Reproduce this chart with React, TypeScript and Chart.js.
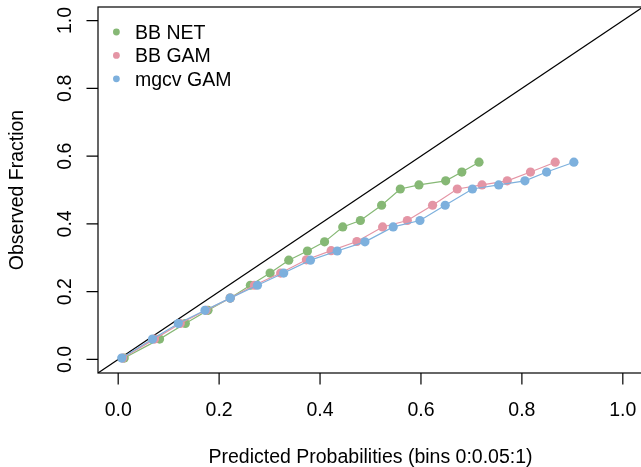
import React, { useEffect, useRef } from "react";
import { Chart, registerables } from "chart.js";

Chart.register(...registerables);

// ---- data ----
const seriesNames = ["BB NET", "BB GAM", "mgcv GAM"];
const seriesColors = ["#86B875", "#E495A5", "#7DB0DD"];

const bbNetPredicted = [0.012, 0.082, 0.133, 0.178, 0.222, 0.262, 0.301, 0.338, 0.375, 0.409, 0.445, 0.480, 0.522, 0.559, 0.596, 0.649, 0.681, 0.715];
const bbNetObserved = [0.004, 0.060, 0.106, 0.145, 0.181, 0.219, 0.255, 0.293, 0.320, 0.347, 0.391, 0.410, 0.455, 0.503, 0.515, 0.527, 0.553, 0.582];

const bbGamPredicted = [0.009, 0.072, 0.123, 0.174, 0.222, 0.270, 0.322, 0.373, 0.422, 0.473, 0.524, 0.573, 0.623, 0.672, 0.721, 0.771, 0.817, 0.866];
const bbGamObserved = [0.004, 0.060, 0.106, 0.145, 0.181, 0.219, 0.255, 0.294, 0.321, 0.348, 0.391, 0.410, 0.455, 0.503, 0.515, 0.527, 0.553, 0.582];

const mgcvGamPredicted = [0.007, 0.068, 0.119, 0.172, 0.222, 0.276, 0.328, 0.381, 0.434, 0.489, 0.545, 0.598, 0.648, 0.702, 0.754, 0.806, 0.849, 0.903];
const mgcvGamObserved = [0.004, 0.060, 0.106, 0.145, 0.181, 0.219, 0.255, 0.293, 0.320, 0.347, 0.391, 0.410, 0.455, 0.503, 0.515, 0.527, 0.553, 0.582];

const tickValues = [0, 0.2, 0.4, 0.6, 0.8, 1.0];
const tickLabels = ["0.0", "0.2", "0.4", "0.6", "0.8", "1.0"];
const axisMin = -0.04;
const axisMax = 1.04;
const diagonalEnds = [-0.04, 1.04];
const xTitle = "Predicted Probabilities (bins 0:0.05:1)";
const yTitle = "Observed Fraction";

const FONT = '19.5px "Liberation Sans", Arial, Helvetica, sans-serif';

const toPoints = (xs: number[], ys: number[]) => xs.map((v, i) => ({ x: v, y: ys[i] }));

const rPlotPlugin = {
  id: "rPlot",
  afterDraw(chart: any) {
    const { ctx, chartArea: a } = chart;
    const xs = chart.scales.x;
    const ys = chart.scales.y;
    ctx.save();
    ctx.strokeStyle = "#000";
    ctx.lineWidth = 1.2;
    ctx.strokeRect(a.left, a.top, a.right - a.left, a.bottom - a.top);
    ctx.beginPath();
    tickValues.forEach((v) => {
      const px = xs.getPixelForValue(v);
      ctx.moveTo(px, a.bottom);
      ctx.lineTo(px, a.bottom + 11.5);
    });
    tickValues.forEach((v) => {
      const py = ys.getPixelForValue(v);
      ctx.moveTo(a.left, py);
      ctx.lineTo(a.left - 11.5, py);
    });
    ctx.stroke();

    ctx.fillStyle = "#000";
    ctx.font = FONT;
    ctx.textAlign = "center";
    ctx.textBaseline = "alphabetic";
    tickLabels.forEach((t, i) => {
      ctx.fillText(t, xs.getPixelForValue(tickValues[i]), a.bottom + 43);
    });
    tickLabels.forEach((t, i) => {
      ctx.save();
      ctx.translate(a.left - 27.5, ys.getPixelForValue(tickValues[i]));
      ctx.rotate(-Math.PI / 2);
      ctx.fillText(t, 0, 0);
      ctx.restore();
    });
    ctx.fillText(xTitle, (a.left + a.right) / 2, a.bottom + 90);
    ctx.save();
    ctx.translate(a.left - 75, (a.top + a.bottom) / 2);
    ctx.rotate(-Math.PI / 2);
    ctx.fillText(yTitle, 0, 0);
    ctx.restore();

    // legend
    ctx.textAlign = "left";
    seriesNames.forEach((name, i) => {
      const cy = a.top + 25 + i * 23.4;
      ctx.fillStyle = seriesColors[i];
      ctx.beginPath();
      ctx.arc(a.left + 18.4, cy, 3.4, 0, Math.PI * 2);
      ctx.fill();
      ctx.fillStyle = "#000";
      ctx.fillText(name, a.left + 37, cy + 7);
    });
    ctx.restore();
  },
};

export default function App() {
  const ref = useRef<HTMLCanvasElement | null>(null);

  useEffect(() => {
    const canvas = ref.current;
    if (!canvas) return;
    const mk = (label: string, color: string, pts: { x: number; y: number }[], order: number) => ({
      label,
      data: pts,
      borderColor: color,
      backgroundColor: color,
      pointBackgroundColor: color,
      pointBorderWidth: 0,
      pointRadius: 4.6,
      borderWidth: 1.2,
      showLine: true,
      tension: 0,
      order,
    });
    const chart = new Chart(canvas, {
      type: "line",
      data: {
        datasets: [
          {
            label: "diagonal",
            data: toPoints(diagonalEnds, diagonalEnds),
            borderColor: "#000",
            borderWidth: 1.2,
            pointRadius: 0,
            showLine: true,
            order: 4,
          } as any,
          mk(seriesNames[0], seriesColors[0], toPoints(bbNetPredicted, bbNetObserved), 3),
          mk(seriesNames[1], seriesColors[1], toPoints(bbGamPredicted, bbGamObserved), 2),
          mk(seriesNames[2], seriesColors[2], toPoints(mgcvGamPredicted, mgcvGamObserved), 1),
        ],
      },
      options: {
        responsive: false,
        animation: false,
        devicePixelRatio: 1,
        layout: { padding: { top: 7, right: 7, left: 0, bottom: 0 } },
        plugins: { legend: { display: false }, tooltip: { enabled: false } },
        scales: {
          x: {
            type: "linear",
            min: axisMin,
            max: axisMax,
            grid: { display: false },
            border: { display: false },
            ticks: { display: false },
            afterFit: (s: any) => {
              s.height = 94;
            },
          },
          y: {
            type: "linear",
            min: axisMin,
            max: axisMax,
            grid: { display: false },
            border: { display: false },
            ticks: { display: false },
            afterFit: (s: any) => {
              s.width = 98;
            },
          },
        },
      },
      plugins: [rPlotPlugin],
    });
    return () => chart.destroy();
  }, []);

  return (
    <div style={{ position: "fixed", left: 0, top: 0, width: 641, height: 467, overflow: "hidden", background: "#fff" }}>
      <canvas ref={ref} width={650} height={467} style={{ width: 650, height: 467, display: "block" }} />
    </div>
  );
}
